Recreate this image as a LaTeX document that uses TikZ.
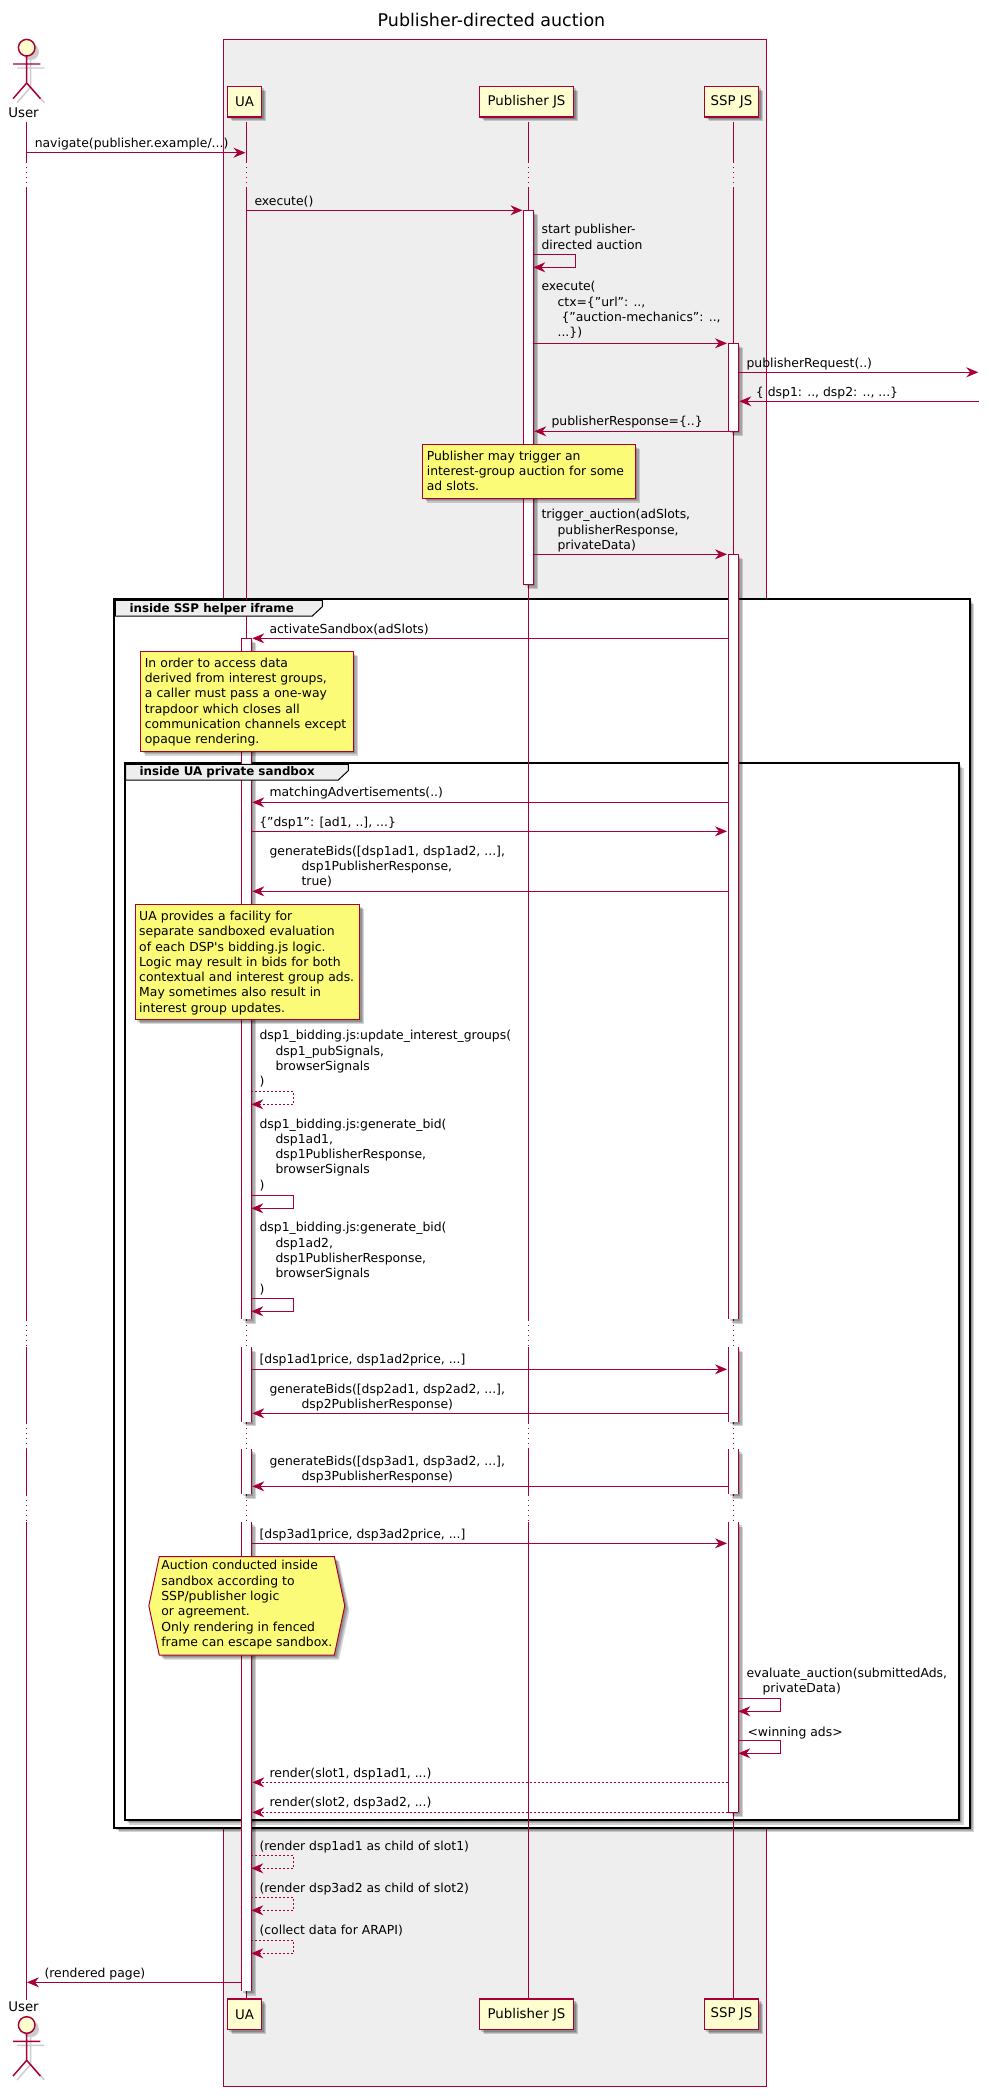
\documentclass[tikz,border=0pt]{standalone}
\usepackage{fontspec}
\setmainfont{DejaVu Sans}
\usetikzlibrary{arrows.meta,shadows,shapes.symbols}
\definecolor{crimson}{HTML}{A80036}
\definecolor{cream}{HTML}{FEFECE}
\definecolor{notey}{HTML}{FBFB77}
\definecolor{boxgray}{HTML}{EEEEEE}
\newcommand{\msgfont}{\fontsize{9.3pt}{11.475pt}\selectfont}
\newcommand{\partfont}{\fontsize{10pt}{11.475pt}\selectfont}
\tikzset{
  >={Stealth[length=9pt,width=7.5pt,inset=3pt]},
  softshadow/.style={
    drop shadow={shadow xshift=1.5pt,shadow yshift=-1.5pt,opacity=0.17,fill=black},
    drop shadow={shadow xshift=2.5pt,shadow yshift=-2.5pt,opacity=0.17,fill=black},
    drop shadow={shadow xshift=3.5pt,shadow yshift=-3.5pt,opacity=0.17,fill=black}},
  part/.style={draw=crimson,fill=cream,line width=1.1pt,inner sep=0pt,font=\partfont,
    minimum height=22.9pt,softshadow},
  actorname/.style={inner sep=0pt,font=\partfont,execute at begin node=\strut},
  life/.style={draw=crimson,line width=0.75pt},
  lifedot/.style={draw=crimson,line width=0.75pt,dash pattern=on 0.75pt off 3pt},
  bar/.style={fill=white,softshadow},
  msg/.style={->,draw=crimson,line width=0.75pt},
  reply/.style={->,draw=crimson,line width=0.75pt,dash pattern=on 1.5pt off 1.5pt},
  lbl/.style={anchor=west,inner sep=0pt,yshift=-0.75pt,align=left,font=\msgfont,
    execute at begin node=\strut,execute at end node=\strut},
  frame/.style={draw=black,line width=1.5pt,fill=white,softshadow},
  tab/.style={draw=black,line width=0.75pt,fill=boxgray},
  tabtitle/.style={anchor=west,inner sep=0pt,font=\fontsize{8.9pt}{11pt}\selectfont\bfseries},
  note/.style={draw=crimson,fill=notey,line width=0.75pt,anchor=north west,inner xsep=3pt,
    inner ysep=0pt,text width=#1,align=left,font=\msgfont,softshadow,
    execute at begin node={\rule{0pt}{9.5pt}},execute at end node=\strut},
  hexnote/.style={draw=crimson,fill=notey,line width=0.75pt,shape=signal,
    signal to=west and east,signal pointer angle=156,inner xsep=1.5pt,inner ysep=3pt,
    align=left,font=\msgfont,softshadow,
    execute at begin node={\rule{0pt}{9.5pt}},execute at end node=\strut},
  % pictogram
  pics/actor/.style={code={
    \begin{scope}[shift={(4,4)},draw=black,opacity=0.2,line width=1.1pt]
      \draw (0,8.3) -- (0,35.3) (-13.7,16.3) -- (13.7,16.3) (-13.7,51) -- (0,35.3) -- (13.7,51);
      \fill[black] (0,0) circle (8.3);
    \end{scope}
    \draw[crimson,line width=1.1pt] (0,8.3) -- (0,35.3) (-13.7,16.3) -- (13.7,16.3)
      (-13.7,51) -- (0,35.3) -- (13.7,51);
    \draw[crimson,fill=cream,line width=1.1pt] (0,0) circle (8.3);
  }},
}
\begin{document}
\begin{tikzpicture}[x=0.75pt,y=-0.75pt]
  \useasboundingbox (0,0) rectangle (989,2096);
  \node[font=\fontsize{13.1pt}{15pt}\selectfont,inner sep=0pt] (title) at (491.5,20) {Publisher-directed auction};

  \draw[draw=crimson,line width=0.75pt,fill=boxgray] (223.3,39.3) rectangle (766.3,2086.7);

  \pic at (26.7,47.7) {actor};
  \pic at (26.7,2025) {actor};
  \node[actorname] (user) at (23.5,114) {User};
  \node[actorname] (userb) at (23.5,2008) {User};
  \node[part,minimum width=25.8pt] (ua) at (244.5,101.5) {UA};
  \node[part,minimum width=70.8pt] (pub) at (526.5,101.5) {Publisher JS};
  \node[part,minimum width=40.8pt] (ssp) at (731.5,101.5) {SSP JS};
  \node[part,minimum width=25.8pt] (uab) at (244.5,2014.3) {UA};
  \node[part,minimum width=70.8pt] (pubb) at (526.5,2014.3) {Publisher JS};
  \node[part,minimum width=40.8pt] (sspb) at (731.5,2014.3) {SSP JS};

  \draw[frame] (114.3,599.3) rectangle (969.7,1827.7);
  \draw[frame] (124.7,763.3) rectangle (959,1820);

  % lifelines, broken by the dotted delays
  \foreach \who/\x/\trim in {user/26.5/0pt,ua/246.5/3pt,pub/528.3/3pt,ssp/733.3/3pt}{
    \foreach \n/\ya/\yb in {1/162/188,2/1320/1346.7,3/1422.7/1449,4/1495/1521.7}{
      \coordinate (\who gap\n a) at (\x,\ya);
      \coordinate (\who gap\n b) at (\x,\yb);
      \draw[lifedot] (\who gap\n a) -- (\who gap\n b);
    }
    \draw[life,shorten <=\trim] (\who.south -| \who gap1a) -- (\who gap1a);
    \draw[life] (\who gap1b) -- (\who gap2a);
    \draw[life] (\who gap2b) -- (\who gap3a);
    \draw[life] (\who gap3b) -- (\who gap4a);
    \draw[life] (\who gap4b) -- (\who b.north -| \who gap4b);
  }

  % activation bars
  \draw[life,bar] (523.3,210.3) rectangle (533.3,584.3);
  \draw[life,bar] (728.3,343.3) rectangle (738.3,431.3);
  \foreach \x/\ya/\yb in {241.3/638.3/1319.3,241.3/1347.3/1421.7,241.3/1449/1494.3,241.3/1522/1991,
      728.3/554.3/1319.3,728.3/1347.3/1421.7,728.3/1449/1494.3,728.3/1522/1812.3}{
    \fill[bar] (\x,\ya) rectangle (\x+10,\yb);
    \draw[life] (\x,\ya) -- (\x,\yb) (\x+10,\ya) -- (\x+10,\yb);
  }
  \draw[life] (241.3,638.3) -- (251.3,638.3);
  \draw[life] (728.3,554.3) -- (738.3,554.3) (728.3,1812.3) -- (738.3,1812.3);

  \draw[tab] (115.3,600.3) -- (322.3,600.3) -- (322.3,606.7) -- (312.3,616) -- (115.3,616) -- cycle;
  \node[tabtitle] (iframetitle) at (129.3,609.3) {inside SSP helper iframe};
  \draw[tab] (125.7,764.3) -- (348.3,764.3) -- (348.3,770.7) -- (338.3,780) -- (125.7,780) -- cycle;
  \node[tabtitle] (sandboxtitle) at (139.3,772.7) {inside UA private sandbox};

  \node[note=153.3pt,minimum height=40pt] (trigger note) at (422.3,444.3) {Publisher may trigger an\\interest-group auction for some\\ad slots.};
  \node[note=153.3pt,minimum height=74.5pt] (trapdoor note) at (140.3,651.3) {In order to access data\\derived from interest groups,\\a caller must pass a one-way\\trapdoor which closes all\\communication channels except\\opaque rendering.};
  \node[note=162.4pt,minimum height=86.2pt] (bidding note) at (134.7,904.3) {UA provides a facility for\\separate sandboxed evaluation\\of each DSP\textquotesingle s bidding.js logic.\\Logic may result in bids for both\\contextual and interest group ads.\\May sometimes also result in\\interest group updates.};
  \node[hexnote] (auction note) at (246.8,1605.8) {Auction conducted inside\\sandbox according to\\SSP/publisher logic\\or agreement.\\Only rendering in fenced\\frame can escape sandbox.};

  % messages between lifelines
  \foreach \name/\xa/\xb/\y/\kind in {navigate/26.5/245.5/152.7/msg,execute/246.5/522.5/210.3/msg,
      ctx/533.3/727/343.3/msg,pubreq/738.3/978.3/372.3/msg,dspresp/979/739.3/401.3/msg,
      pubresp/728.3/534.3/431.3/msg,trigger/533.3/727/554.3/msg,activate/728.3/252.3/638.3/msg,
      matching/728.3/252.3/802.3/msg,matched/251.3/727/831.3/msg,genbidsa/728.3/252.3/891.3/msg,
      pricesa/251.3/727/1369.3/msg,genbidsb/728.3/252.3/1413.3/msg,genbidsc/728.3/252.3/1486.3/msg,
      pricesc/251.3/727/1543.3/msg,rendera/728.3/252.3/1782.3/reply,renderb/728.3/252.3/1812.3/reply,
      rendered/241.3/27/1982.3/msg}{
    \coordinate (\name a) at (\xa,\y);
    \coordinate (\name b) at (\xb,\y);
    \draw[\kind] (\name a) -- (\name b);
  }
  % messages to self
  \foreach \name/\xa/\xb/\ya/\yb/\kind in {start/533.3/575.7/254.3/267.3/msg,update/251.3/293.7/1091.3/1104.3/reply,
      bida/251.3/293.7/1195.3/1208.3/msg,bidb/251.3/293.7/1298.3/1311.3/msg,
      evaluate/738.3/780.3/1698.3/1711.3/msg,winning/738.3/780.3/1740.3/1753.3/msg,
      childa/251.3/293.7/1855.3/1868.3/reply,childb/251.3/293.7/1897.3/1910.3/reply,
      collect/251.3/293.7/1940.3/1953.3/reply}{
    \coordinate (\name a) at (\xa,\ya);
    \coordinate (\name b) at (\xa,\yb);
    \coordinate (\name c) at (\xb,\ya);
    \draw[\kind] (\name a) -- (\name c) |- (\name b);
  }

  \node[lbl] (navigate label) at (34.5,143) {navigate(publisher.example/...)};
  \node[lbl] (execute label) at (254.3,201.3) {execute()};
  \node[lbl] (start label) at (541.3,238) {start publisher-\\directed auction};
  \node[lbl] (ctx label) at (541.3,310.5) {execute(\\\hspace*{12pt}ctx=\{"url": ..,\\\hspace*{15pt}\{"auction-mechanics": ..,\\\hspace*{12pt}...\})};
  \node[lbl] (pubreq label) at (746.3,363.7) {publisherRequest(..)};
  \node[lbl] (dspresp label) at (755.7,392.7) {\{ dsp1: .., dsp2: .., ...\}};
  \node[lbl] (pubresp label) at (551.3,421.7) {publisherResponse=\{..\}};
  \node[lbl] (trigger label) at (541.3,530.7) {trigger\_auction(adSlots,\\\hspace*{12pt}publisherResponse,\\\hspace*{12pt}privateData)};
  \node[lbl] (activate label) at (269.3,629.3) {activateSandbox(adSlots)};
  \node[lbl] (matching label) at (269.3,792.3) {matchingAdvertisements(..)};
  \node[lbl] (matched label) at (259,822.3) {\{"dsp1": [ad1, ..], ...\}};
  \node[lbl] (genbidsa label) at (269.3,867) {generateBids([dsp1ad1, dsp1ad2, ...],\\\hspace*{24pt}dsp1PublisherResponse,\\\hspace*{24pt}true)};
  \node[lbl] (update label) at (259.3,1059.3) {dsp1\_bidding.js:update\_interest\_groups(\\\hspace*{12pt}dsp1\_pubSignals,\\\hspace*{12pt}browserSignals\\)};
  \node[lbl] (bida label) at (259.3,1155.2) {dsp1\_bidding.js:generate\_bid(\\\hspace*{12pt}dsp1ad1,\\\hspace*{12pt}dsp1PublisherResponse,\\\hspace*{12pt}browserSignals\\)};
  \node[lbl] (bidb label) at (259.3,1259) {dsp1\_bidding.js:generate\_bid(\\\hspace*{12pt}dsp1ad2,\\\hspace*{12pt}dsp1PublisherResponse,\\\hspace*{12pt}browserSignals\\)};
  \node[lbl] (pricesa label) at (259.3,1359.3) {[dsp1ad1price, dsp1ad2price, ...]};
  \node[lbl] (genbidsb label) at (269.3,1397.5) {generateBids([dsp2ad1, dsp2ad2, ...],\\\hspace*{24pt}dsp2PublisherResponse)};
  \node[lbl] (genbidsc label) at (269.3,1469.5) {generateBids([dsp3ad1, dsp3ad2, ...],\\\hspace*{24pt}dsp3PublisherResponse)};
  \node[lbl] (pricesc label) at (259.3,1534.3) {[dsp3ad1price, dsp3ad2price, ...]};
  \node[lbl] (evaluate label) at (746.3,1681.5) {evaluate\_auction(submittedAds,\\\hspace*{12pt}privateData)};
  \node[lbl] (winning label) at (747.3,1732) {<winning ads>};
  \node[lbl] (rendera label) at (269.3,1773.3) {render(slot1, dsp1ad1, ...)};
  \node[lbl] (renderb label) at (269.3,1802.3) {render(slot2, dsp3ad2, ...)};
  \node[lbl] (childa label) at (259.3,1846.7) {(render dsp1ad1 as child of slot1)};
  \node[lbl] (childb label) at (259.3,1888.7) {(render dsp3ad2 as child of slot2)};
  \node[lbl] (collect label) at (259.3,1930.7) {(collect data for ARAPI)};
  \node[lbl] (rendered label) at (44.3,1973.3) {(rendered page)};
\end{tikzpicture}
\end{document}
